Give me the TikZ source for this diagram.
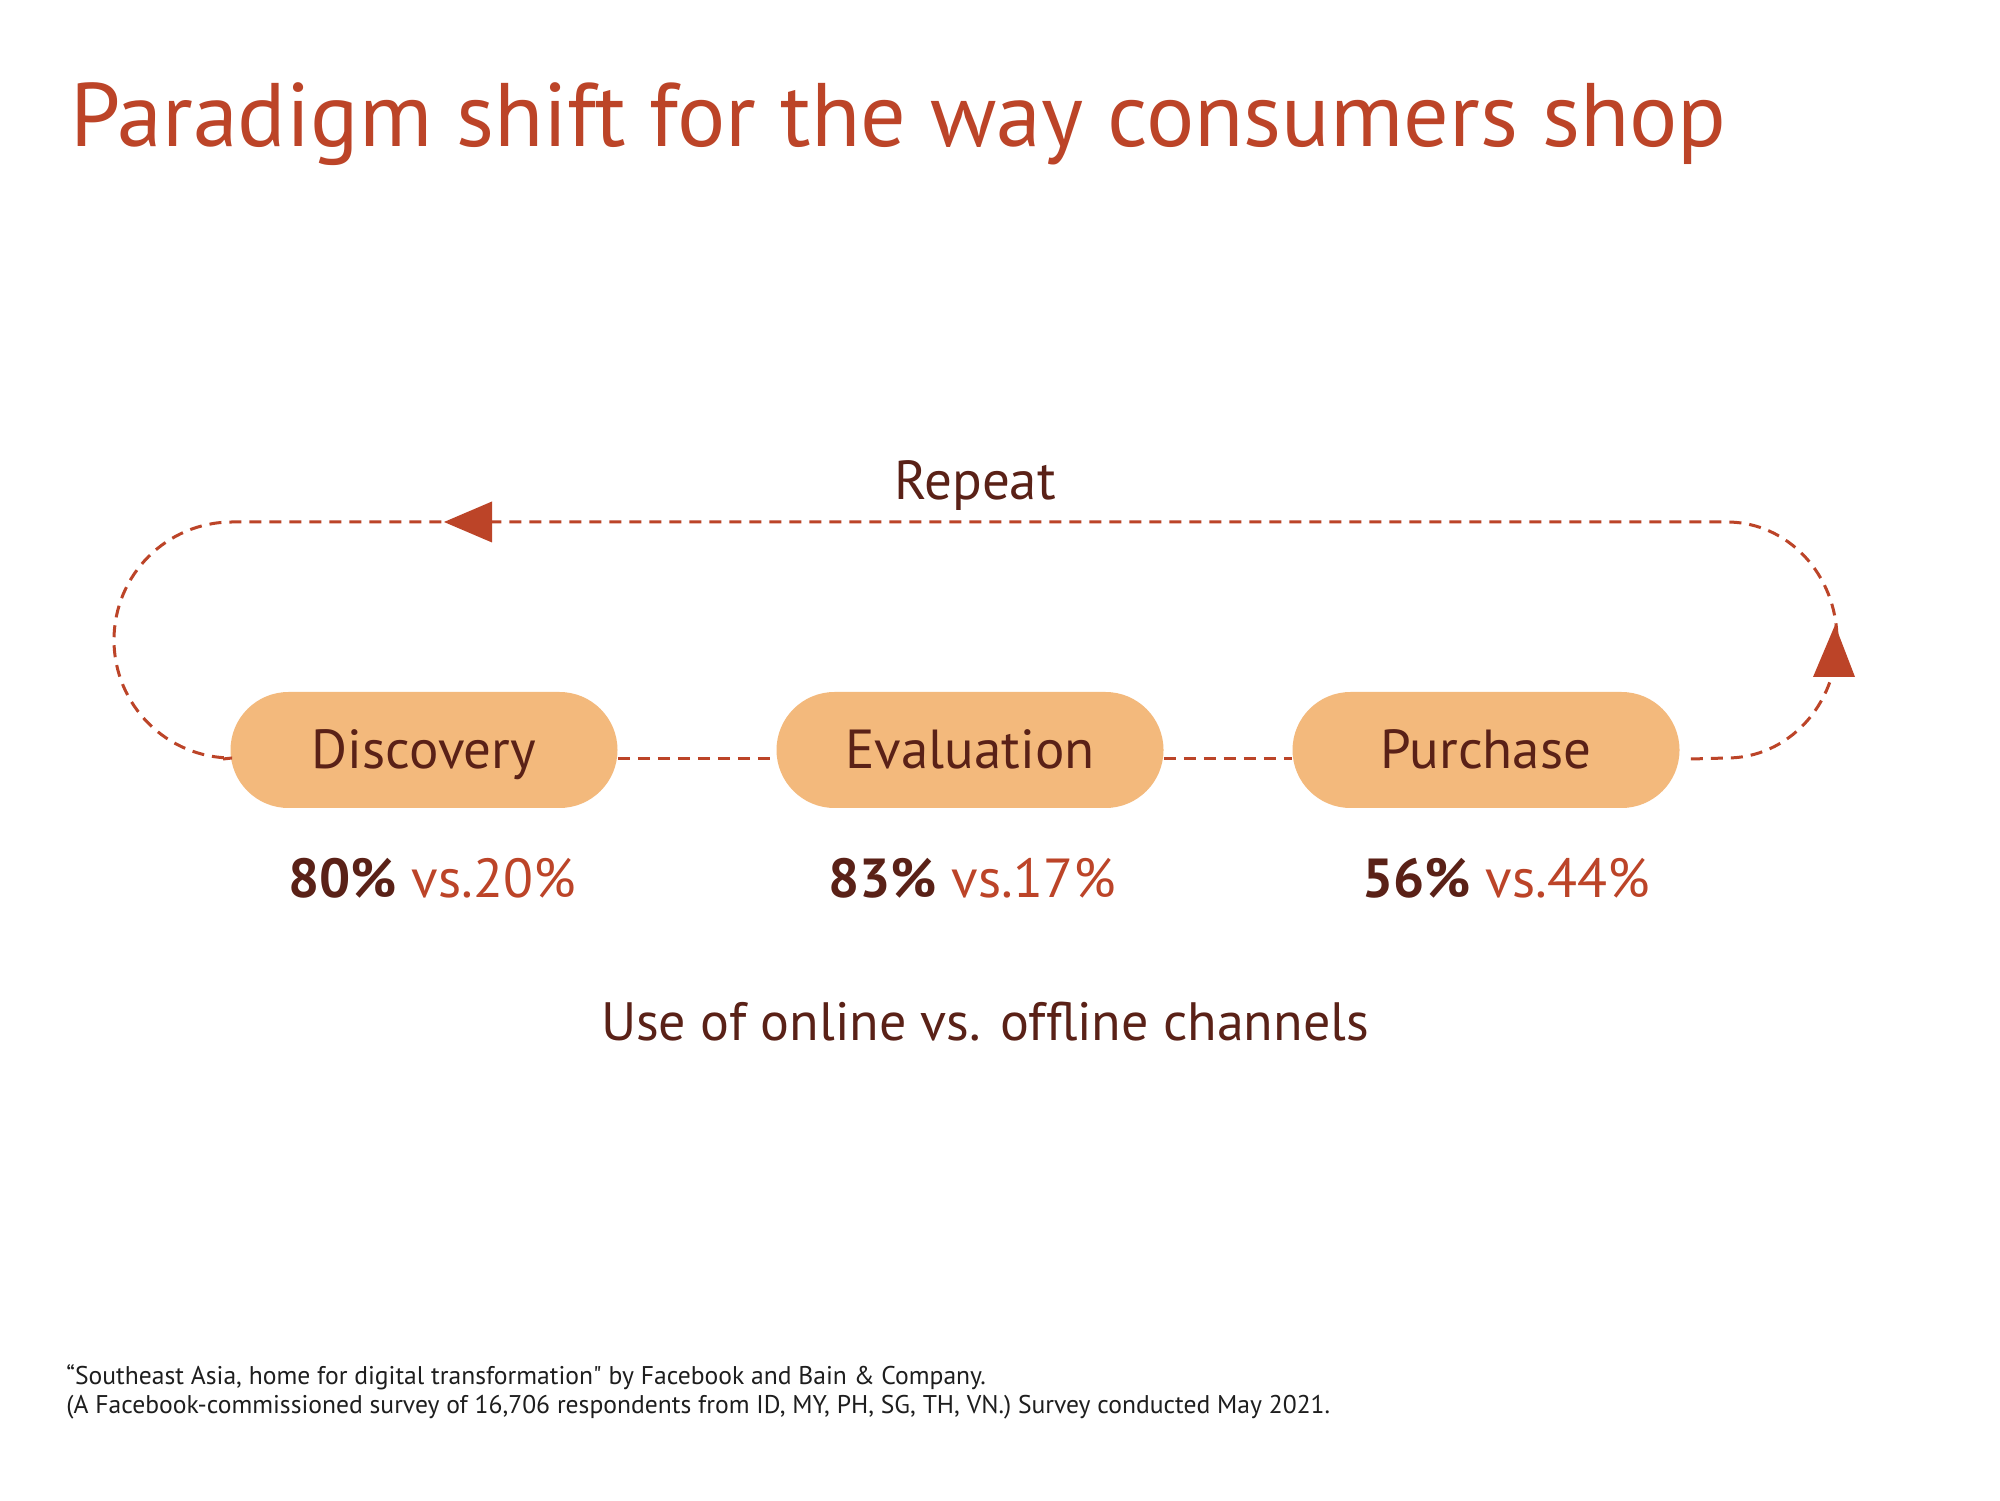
\documentclass[tikz,border=0pt]{standalone}
\usepackage{fontspec}
\setmainfont{PT Sans}
\newfontfamily\footfont{PT Sans}
\definecolor{accent}{HTML}{BC4428}
\definecolor{darktxt}{HTML}{5A2117}
\definecolor{pillfill}{HTML}{F3B97C}
\definecolor{foot}{HTML}{1E1E1E}
\begin{document}
\begin{tikzpicture}[x=0.5pt,y=0.5pt,
  pill/.style={fill=pillfill, rounded corners=29pt, minimum width=193.5pt, minimum height=58pt,
    text=darktxt, font=\fontsize{27.5}{32}\selectfont, text height=18.5pt, text depth=0pt, inner sep=0pt},
  loopline/.style={draw=accent, line width=1.5pt, dash pattern=on 6pt off 4pt},
  tip/.style={fill=accent},
  pct/.style={anchor=base, font=\fontsize{27.5}{32}\selectfont, inner sep=0pt},
  foottext/.style={anchor=base west, inner sep=0pt, text=foot, font=\footfont\fontsize{12.8}{15}\selectfont},
]
\useasboundingbox (0,0) rectangle (2000,1500);
\fill[white] (0,0) rectangle (2000,1500);

\node[anchor=base west, inner sep=0pt, text=accent, font=\fontsize{45.1}{52}\selectfont] (title) at (70,1353) {Paradigm shift for the way consumers shop};

\node[anchor=base, inner sep=0pt, text=darktxt, font=\fontsize{27.5}{32}\selectfont] (repeat) at (975,1000) {Repeat};

\node[pill] (disc) at (424,750) {Discovery};
\node[pill] (eval) at (970,750) {Evaluation};
\node[pill] (purch) at (1486,750) {Purchase};

% connectors between pills
\draw[loopline] ([yshift=-4.5pt]disc.east) -- ([yshift=-4.5pt]eval.west);
\draw[loopline] ([yshift=-4.5pt]eval.east) -- ([yshift=-4.5pt]purch.west);

% repeat loop
\coordinate (rstart) at ([xshift=5.5pt,yshift=-4.5pt]purch.east);
\coordinate (lend) at ([xshift=-3.5pt,yshift=-4.5pt]disc.west);
\draw[loopline] (rstart) -- (1727,742) arc[start angle=-90, end angle=90, x radius=110, y radius=118]
  -- (232,978) arc[start angle=90, end angle=270, radius=118] -- (lend);

% arrowheads
\fill[tip] (444,978) -- (492,998.5) -- (492,957.5) -- cycle;
\fill[tip] (1835,875) -- (1855,823) -- (1813,823) -- cycle;

\node[pct] (p1) at (432,603) {\textcolor{darktxt}{\bfseries 80\%} \textcolor{accent}{vs.20\%}};
\node[pct] (p2) at (972,603) {\textcolor{darktxt}{\bfseries 83\%} \textcolor{accent}{vs.17\%}};
\node[pct] (p3) at (1506,603) {\textcolor{darktxt}{\bfseries 56\%} \textcolor{accent}{vs.44\%}};

\node[anchor=base, inner sep=0pt, text=darktxt, font=\fontsize{27}{31}\selectfont] (use) at (985,460) {Use of online vs. offline channels};

\node[foottext] (f1) at (66,116) {“Southeast Asia, home for digital transformation" by Facebook and Bain \& Company.};
\node[foottext] (f2) at (66,87) {(A Facebook-commissioned survey of 16,706 respondents from ID, MY, PH, SG, TH, VN.) Survey conducted May 2021.};
\end{tikzpicture}
\end{document}
